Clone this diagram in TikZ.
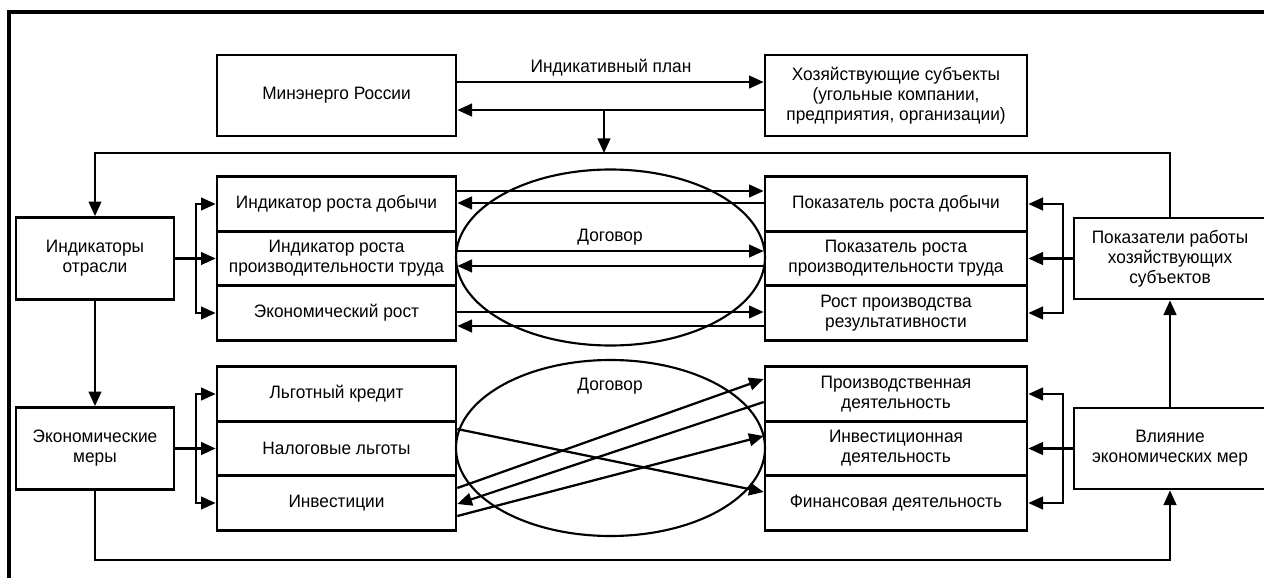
\documentclass[tikz,border=0pt]{standalone}
\usepackage{fontspec}
\setmainfont{Liberation Sans}[FakeStretch=0.96]
\usepackage{tikz}
\usetikzlibrary{arrows.meta,positioning,calc,shapes.geometric}

\begin{document}
\begin{tikzpicture}[x=0.75pt,y=-0.75pt,
    box/.style={draw,line width=2pt,align=center,inner sep=0pt,font=\fontsize{13.5}{15}\selectfont},
    topbox/.style={box,minimum height=60.75pt},
    sidebox/.style={box,minimum width=118.5pt,minimum height=61.5pt},
    rightbox/.style={box,minimum width=144pt,minimum height=60.75pt},
    lcell/.style={box,minimum width=179.25pt,minimum height=40.9pt},
    rcell/.style={box,minimum width=196.5pt,minimum height=40.9pt},
    oval/.style={ellipse,draw,line width=1.6pt,inner sep=0pt,minimum width=231.75pt,minimum height=132pt},
    lbl/.style={inner sep=0pt,font=\fontsize{13.5}{15}\selectfont},
    arrow/.style={-{Triangle[length=11pt,width=9.5pt]},line width=1.7pt}
]
\useasboundingbox (0,0) rectangle (1264,578);
\draw[line width=3pt] (9,600) |- (1290,12);
% contract ovals
\node[oval] (ov1) at (610.5,257.5) {};
\node[oval] (ov2) at (610.5,448) {};
\node[lbl] (dog1) at (610,237) {Договор};
\node[lbl] (dog2) at (610,386) {Договор};
% top row
\node[topbox,minimum width=179.25pt] (minen) at (336.5,95.5) {Минэнерго России};
\node[topbox,minimum width=196.5pt] (hoz) at (896,95.5) {Хозяйствующие субъекты\\(угольные компании,\\предприятия, организации)};
\node[lbl] (plan) at (611,68) {Индикативный план};
% left side
\node[sidebox] (ind) at (95,258.5) {Индикаторы\\отрасли};
\node[sidebox] (ekm) at (95,448.5) {Экономические\\меры};
% left stacks
\node[lcell] (l1) at (336.5,204) {Индикатор роста добычи};
\node[lcell] (l2) at (336.5,258.5) {Индикатор роста\\производительности труда};
\node[lcell] (l3) at (336.5,313) {Экономический рост};
\node[lcell] (l4) at (336.5,394) {Льготный кредит};
\node[lcell] (l5) at (336.5,448.5) {Налоговые льготы};
\node[lcell] (l6) at (336.5,503) {Инвестиции};
% right stacks
\node[rcell] (r1) at (896,204) {Показатель роста добычи};
\node[rcell] (r2) at (896,258.5) {Показатель роста\\производительности труда};
\node[rcell] (r3) at (896,313) {Рост производства\\результативности};
\node[rcell] (r4) at (896,394) {Производственная\\деятельность};
\node[rcell] (r5) at (896,448.5) {Инвестиционная\\деятельность};
\node[rcell] (r6) at (896,503) {Финансовая деятельность};
% right side
\node[rightbox] (pok) at (1170,258.5) {Показатели работы\\хозяйствующих\\субъектов};
\node[rightbox] (vli) at (1170,448.5) {Влияние\\экономических мер};
% junctions
\coordinate (jn) at (604,110);
\coordinate (top) at (604,153);
\coordinate (bot) at (604,560);
\coordinate (fl) at (196,258.5);
\coordinate (fl2) at (196,448.5);
\coordinate (fr) at (1063,258.5);
\coordinate (fr2) at (1063,448.5);
% plan and feedback
\draw[arrow] ([yshift=10.1pt]minen.east) -- ([yshift=10.1pt]hoz.west);
\draw[arrow] ([yshift=-10.9pt]hoz.west) -- ([yshift=-10.9pt]minen.east);
\draw[arrow] (jn) -- (top);
\draw[arrow] (pok.north) |- (top) -| (ind.north);
\draw[arrow] (ind.south) -- (ekm.north);
\draw[arrow] (vli.north) -- (pok.south);
\draw[arrow] (ekm.south) |- (bot) -| (vli.south);
% forks
\draw[arrow] (ind.east) -- (l2.west);
\foreach \n in {l1,l3}{\draw[arrow] (fl) |- (\n.west);}
\draw[arrow] (ekm.east) -- (l5.west);
\foreach \n in {l4,l6}{\draw[arrow] (fl2) |- (\n.west);}
\draw[arrow] (pok.west) -- (r2.east);
\foreach \n in {r1,r3}{\draw[arrow] (fr) |- (\n.east);}
\draw[arrow] (vli.west) -- (r5.east);
\foreach \n in {r4,r6}{\draw[arrow] (fr2) |- (\n.east);}
% contract links
\foreach \i/\a/\b in {1/9.75/0.75,2/5.6/-5.6,3/0.75/-9.75}{
  \draw[arrow] ([yshift=\a pt]l\i.east) -- ([yshift=\a pt]r\i.west);
  \draw[arrow] ([yshift=\b pt]r\i.west) -- ([yshift=\b pt]l\i.east);
}
\draw[arrow] ([yshift=14.6pt]l5.east) -- ([yshift=8.25pt]r6.west);
\draw[arrow] ([yshift=11.25pt]l6.east) -- ([yshift=11.25pt]r4.west);
\draw[arrow] ([yshift=-6pt]r4.west) -- ([yshift=-0.75pt]l6.east);
\draw[arrow] ([yshift=-9.75pt]l6.east) -- ([yshift=9.4pt]r5.west);
\end{tikzpicture}
\end{document}
